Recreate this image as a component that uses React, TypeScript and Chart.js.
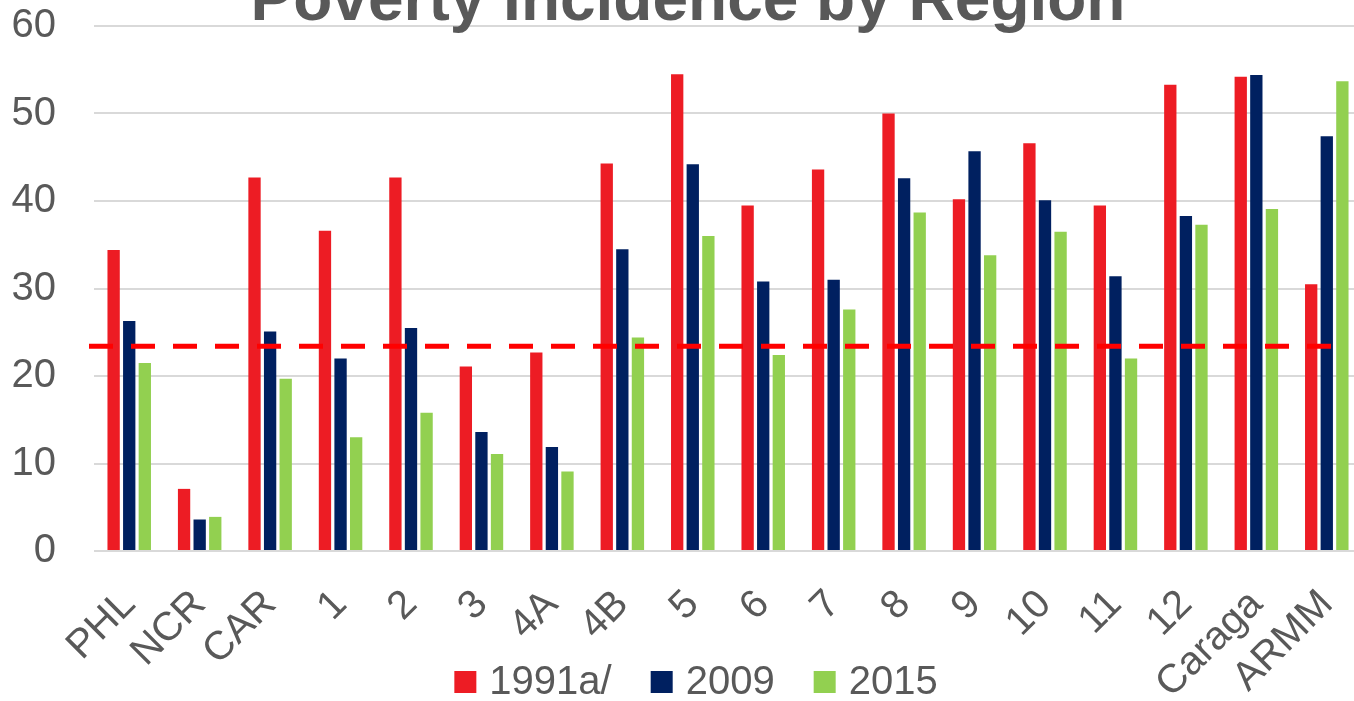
import React, { useEffect, useRef } from "react";
import { Chart, registerables } from "chart.js";

Chart.register(...registerables);

const regions = ["PHL", "NCR", "CAR", "1", "2", "3", "4A", "4B", "5", "6", "7", "8", "9", "10", "11", "12", "Caraga", "ARMM"];
const values1991 = [34.4, 7.1, 42.7, 36.6, 42.7, 21.1, 22.7, 44.3, 54.5, 39.5, 43.6, 50.0, 40.2, 46.6, 39.5, 53.3, 54.2, 30.5];
const values2009 = [26.3, 3.6, 25.1, 22.0, 25.5, 13.6, 11.9, 34.5, 44.2, 30.8, 31.0, 42.6, 45.7, 40.1, 31.4, 38.3, 54.4, 47.4];
const values2015 = [21.5, 3.9, 19.7, 13.0, 15.8, 11.1, 9.1, 24.4, 36.0, 22.4, 27.6, 38.7, 33.8, 36.5, 22.0, 37.3, 39.1, 53.7];
const seriesLabels = ["1991a/", "2009", "2015"];
const seriesColors = ["#ED1C24", "#002060", "#92D050"];
const povertyLine = 23.4;
const titleText = "Poverty Incidence by Region";

const FONT = '"Liberation Sans", Arial, sans-serif';
const TEXT = "#595959";

const titlePlugin = {
  id: "cutTitle",
  afterDraw(chart: any) {
    const ctx = chart.ctx;
    ctx.save();
    ctx.font = `bold 64px ${FONT}`;
    ctx.fillStyle = TEXT;
    ctx.textAlign = "center";
    ctx.textBaseline = "alphabetic";
    ctx.fillText(titleText, 688, 20);
    ctx.restore();
  },
};

const refLinePlugin = {
  id: "refLine",
  afterDatasetsDraw(chart: any) {
    const { ctx, chartArea, scales } = chart;
    const y = scales.y.getPixelForValue(povertyLine);
    ctx.save();
    ctx.strokeStyle = "#FF0000";
    ctx.lineWidth = 5;
    ctx.setLineDash([24, 18]);
    ctx.beginPath();
    ctx.moveTo(chartArea.left - 5, y);
    ctx.lineTo(chartArea.right - 30, y);
    ctx.stroke();
    ctx.restore();
  },
};

const bottomLegend = {
  id: "bottomLegend",
  afterDraw(chart: any) {
    const ctx = chart.ctx;
    const datasets = chart.data.datasets;
    const box = 22;
    const boxGap = 13;
    const itemGap = 39;
    const centerX = 696;
    const centerY = 682;
    ctx.save();
    ctx.font = `40px ${FONT}`;
    const widths = datasets.map((d: any) => ctx.measureText(d.label).width);
    const total = widths.reduce((a: number, w: number) => a + box + boxGap + w, 0) + itemGap * (datasets.length - 1);
    let x = centerX - total / 2;
    ctx.textAlign = "left";
    ctx.textBaseline = "middle";
    datasets.forEach((d: any, i: number) => {
      ctx.fillStyle = d.backgroundColor;
      ctx.fillRect(x, centerY - box / 2, box, box);
      x += box + boxGap;
      ctx.fillStyle = TEXT;
      ctx.fillText(d.label, x, centerY + 1);
      x += widths[i] + itemGap;
    });
    ctx.restore();
  },
};

export default function App() {
  const ref = useRef<HTMLCanvasElement>(null);
  useEffect(() => {
    if (!ref.current) return;
    const chart = new Chart(ref.current, {
      type: "bar",
      data: {
        labels: regions,
        datasets: [
          { label: seriesLabels[0], data: values1991, backgroundColor: seriesColors[0] },
          { label: seriesLabels[1], data: values2009, backgroundColor: seriesColors[1] },
          { label: seriesLabels[2], data: values2015, backgroundColor: seriesColors[2] },
        ],
      },
      options: {
        responsive: false,
        animation: false,
        events: [],
        datasets: { bar: { categoryPercentage: 0.664, barPercentage: 0.79 } },
        layout: { padding: { top: 26, left: 0, right: 0, bottom: 0 } },
        scales: {
          x: {
            grid: { display: false },
            border: { display: false },
            ticks: {
              color: TEXT,
              font: { family: FONT, size: 40 },
              minRotation: 45,
              maxRotation: 45,
              autoSkip: false,
              padding: 22,
            },
            afterFit(scale: any) {
              scale.height = 150;
              scale.paddingLeft = 0;
              scale.paddingRight = 0;
            },
          },
          y: {
            min: 0,
            max: 60,
            border: { display: false },
            grid: { color: "#D9D9D9", lineWidth: 2, drawTicks: false },
            ticks: {
              stepSize: 10,
              color: TEXT,
              font: { family: FONT, size: 40 },
              padding: 38,
            },
            afterFit(scale: any) {
              scale.width = 94;
              scale.paddingTop = 0;
              scale.paddingBottom = 0;
            },
          },
        },
        plugins: {
          title: { display: false },
          tooltip: { enabled: false },
          legend: { display: false },
        },
      },
      plugins: [titlePlugin, refLinePlugin, bottomLegend],
    });
    return () => chart.destroy();
  }, []);

  return (
    <div style={{ position: "fixed", left: 0, top: 0, width: 1354, height: 701, overflow: "hidden", background: "#fff" }}>
      <canvas ref={ref} width={1362} height={701} style={{ display: "block" }} />
    </div>
  );
}
